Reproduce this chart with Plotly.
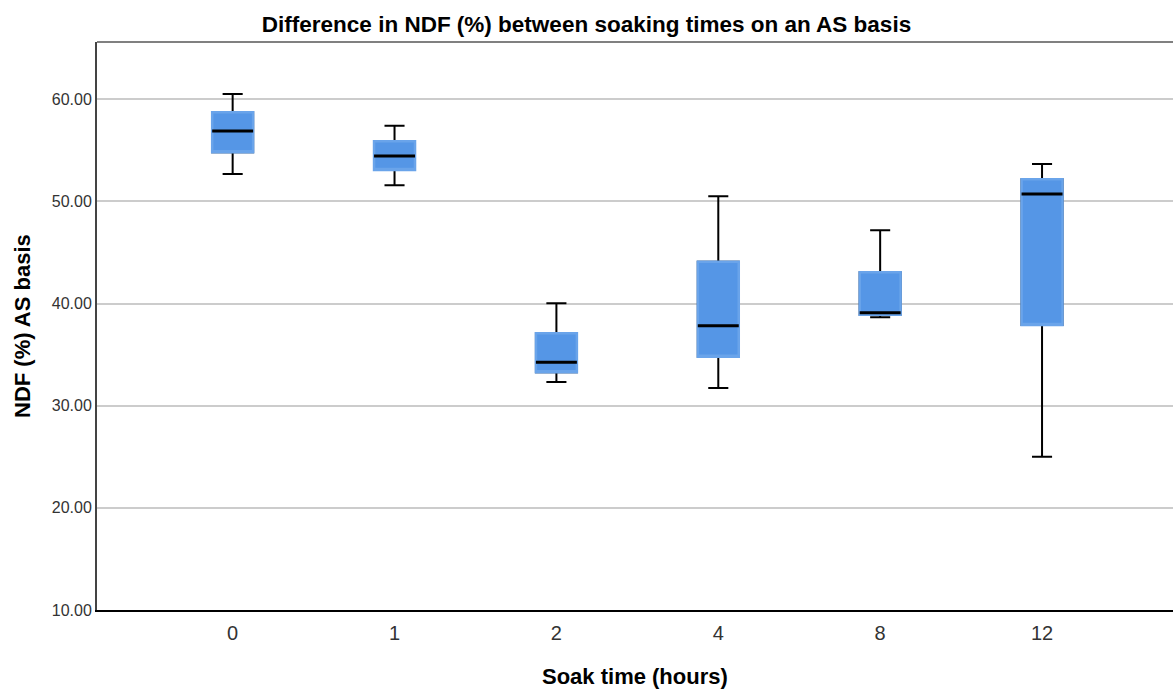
import plotly.graph_objects as go

# Data
soak_time = ["0", "1", "2", "4", "8", "12"]
lower_whisker = [52.69, 51.58, 32.32, 31.73, 38.65, 25.00]
q1 = [54.81, 53.08, 33.27, 34.80, 38.91, 37.90]
median = [56.90, 54.45, 34.25, 37.83, 39.11, 50.73]
q3 = [58.73, 55.89, 37.09, 44.10, 43.06, 52.17]
upper_whisker = [60.52, 57.42, 40.03, 50.50, 47.17, 53.67]
y_ticks = [10, 20, 30, 40, 50, 60]

BLUE = "#5596E6"
FONT = "Liberation Sans, Arial, sans-serif"
BOX_W = 0.253

fig = go.Figure()

# whiskers (black)
fig.add_trace(go.Box(
    x=soak_time, q1=q1, median=median, q3=q3,
    lowerfence=lower_whisker, upperfence=upper_whisker,
    width=BOX_W, whiskerwidth=0.49,
    fillcolor=BLUE, line=dict(color="#000000", width=2),
    boxpoints=False, showlegend=False, hoverinfo="skip",
))
# box body (blue, covers black outline)
fig.add_trace(go.Box(
    x=soak_time, q1=q1, median=q1, q3=q3,
    lowerfence=q1, upperfence=q3,
    width=BOX_W, whiskerwidth=0,
    fillcolor=BLUE, line=dict(color="#6aa4ea", width=2.5),
    boxpoints=False, showlegend=False, hoverinfo="skip",
))
# median line (black)
fig.add_trace(go.Box(
    x=soak_time, q1=median, median=median, q3=median,
    lowerfence=median, upperfence=median,
    width=BOX_W, whiskerwidth=1,
    fillcolor="rgba(0,0,0,0)", line=dict(color="#000000", width=3),
    boxpoints=False, showlegend=False, hoverinfo="skip",
))

fig.update_layout(
    width=1173, height=690,
    margin=dict(l=97, r=0, t=42, b=80),
    paper_bgcolor="white", plot_bgcolor="white",
    boxmode="overlay",
    font=dict(family=FONT, color="#000000"),
    title=dict(
        text="<b>Difference in NDF (%) between soaking times on an AS basis</b>",
        x=0.5, xref="container", xanchor="center",
        y=1 - 24 / 690, yref="container", yanchor="middle",
        font=dict(size=22.5, family=FONT, color="#000000"),
    ),
    xaxis=dict(
        type="category", categoryorder="array", categoryarray=soak_time,
        range=[-0.838, 5.809],
        showgrid=False, zeroline=False,
        showline=True, linecolor="#000000", linewidth=2,
        ticks="", ticklabelstandoff=4,
        tickfont=dict(size=20, family=FONT, color="#333333"),
    ),
    yaxis=dict(
        range=[10, 65.61],
        tickvals=y_ticks, tickformat=".2f",
        showgrid=True, gridcolor="#cccccc", gridwidth=1.5,
        zeroline=False,
        showline=True, linecolor="#444444", linewidth=2,
        ticks="", ticklabelstandoff=0,
        tickfont=dict(size=16, family=FONT, color="#333333"),
    ),
    annotations=[
        dict(text="<b>NDF (%) AS basis</b>", xref="paper", yref="paper",
             x=0, y=0.5, xanchor="center", yanchor="middle", xshift=-75,
             textangle=-90, showarrow=False,
             font=dict(size=22, family=FONT, color="#000000")),
        dict(text="<b>Soak time (hours)</b>", xref="paper", yref="paper",
             x=0.5, y=0, xanchor="center", yanchor="middle", yshift=-66,
             showarrow=False,
             font=dict(size=22, family=FONT, color="#000000")),
    ],
    shapes=[
        dict(type="line", xref="paper", yref="paper", x0=0, x1=1, y0=1, y1=1,
             line=dict(color="#808080", width=2)),
    ],
)

fig.write_html("out.html")
